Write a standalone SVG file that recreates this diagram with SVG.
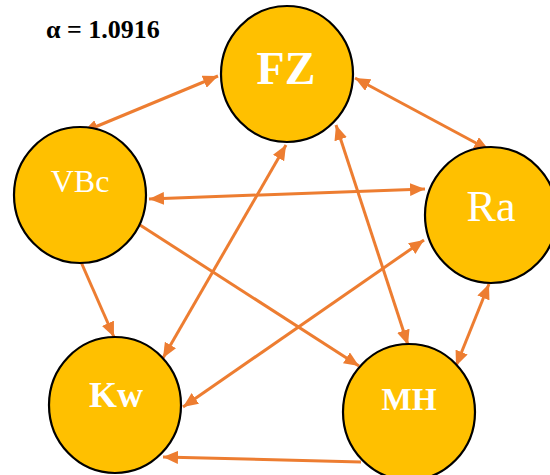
<svg xmlns="http://www.w3.org/2000/svg" width="550" height="475" viewBox="0 0 550 475">
<defs>
<marker id="ah" markerUnits="userSpaceOnUse" markerWidth="15" markerHeight="13" viewBox="0 0 15 13" refX="15" refY="6.5" orient="auto-start-reverse">
<path d="M0,0 L15,6.5 L0,13 z" fill="#ED7D31"/>
</marker>
<style>
.n{fill:#FFC000;stroke:#000;stroke-width:2.2}
.e{stroke:#ED7D31;stroke-width:3;fill:none}
.t{font-family:"Liberation Serif","Times New Roman",serif;fill:#fff;text-anchor:middle}
.b{font-weight:bold}
</style>
</defs>
<rect width="550" height="475" fill="#fff"/>
<g id="connectors">
<line class="e" x1="218" y1="76" x2="83" y2="132" marker-start="url(#ah)" marker-end="url(#ah)"/>
<line class="e" x1="355" y1="78" x2="489" y2="150" marker-start="url(#ah)" marker-end="url(#ah)"/>
<line class="e" x1="163" y1="358" x2="286" y2="145" marker-start="url(#ah)" marker-end="url(#ah)"/>
<line class="e" x1="408" y1="345" x2="336" y2="125" marker-start="url(#ah)" marker-end="url(#ah)"/>
<line class="e" x1="149" y1="199" x2="425" y2="189" marker-start="url(#ah)" marker-end="url(#ah)"/>
<line class="e" x1="81" y1="262" x2="114" y2="337" marker-end="url(#ah)"/>
<line class="e" x1="140" y1="225" x2="359" y2="366" marker-end="url(#ah)"/>
<line class="e" x1="424" y1="240" x2="183" y2="407" marker-start="url(#ah)" marker-end="url(#ah)"/>
<line class="e" x1="489" y1="284" x2="456" y2="366" marker-start="url(#ah)" marker-end="url(#ah)"/>
<line class="e" x1="361" y1="462" x2="163" y2="457" marker-end="url(#ah)"/>
</g>
<g id="FZ"><ellipse class="n" cx="287" cy="74" rx="66" ry="68"/><text class="t b" x="286" y="84" font-size="46">FZ</text></g>
<g id="VBc"><ellipse class="n" cx="80" cy="195" rx="66" ry="68"/><text class="t" x="80" y="192" font-size="32">VBc</text></g>
<g id="Ra"><ellipse class="n" cx="491" cy="215" rx="66" ry="68"/><text class="t" x="491" y="221" font-size="44">Ra</text></g>
<g id="Kw"><ellipse class="n" cx="115" cy="405" rx="66" ry="68"/><text class="t b" x="116" y="407" font-size="36">Kw</text></g>
<g id="MH"><ellipse class="n" cx="409" cy="412" rx="66" ry="68"/><text class="t b" x="409" y="410" font-size="32">MH</text></g>
<text x="46" y="38" font-family="Liberation Serif,serif" font-weight="bold" font-size="26" fill="#000">α = 1.0916</text>
</svg>
